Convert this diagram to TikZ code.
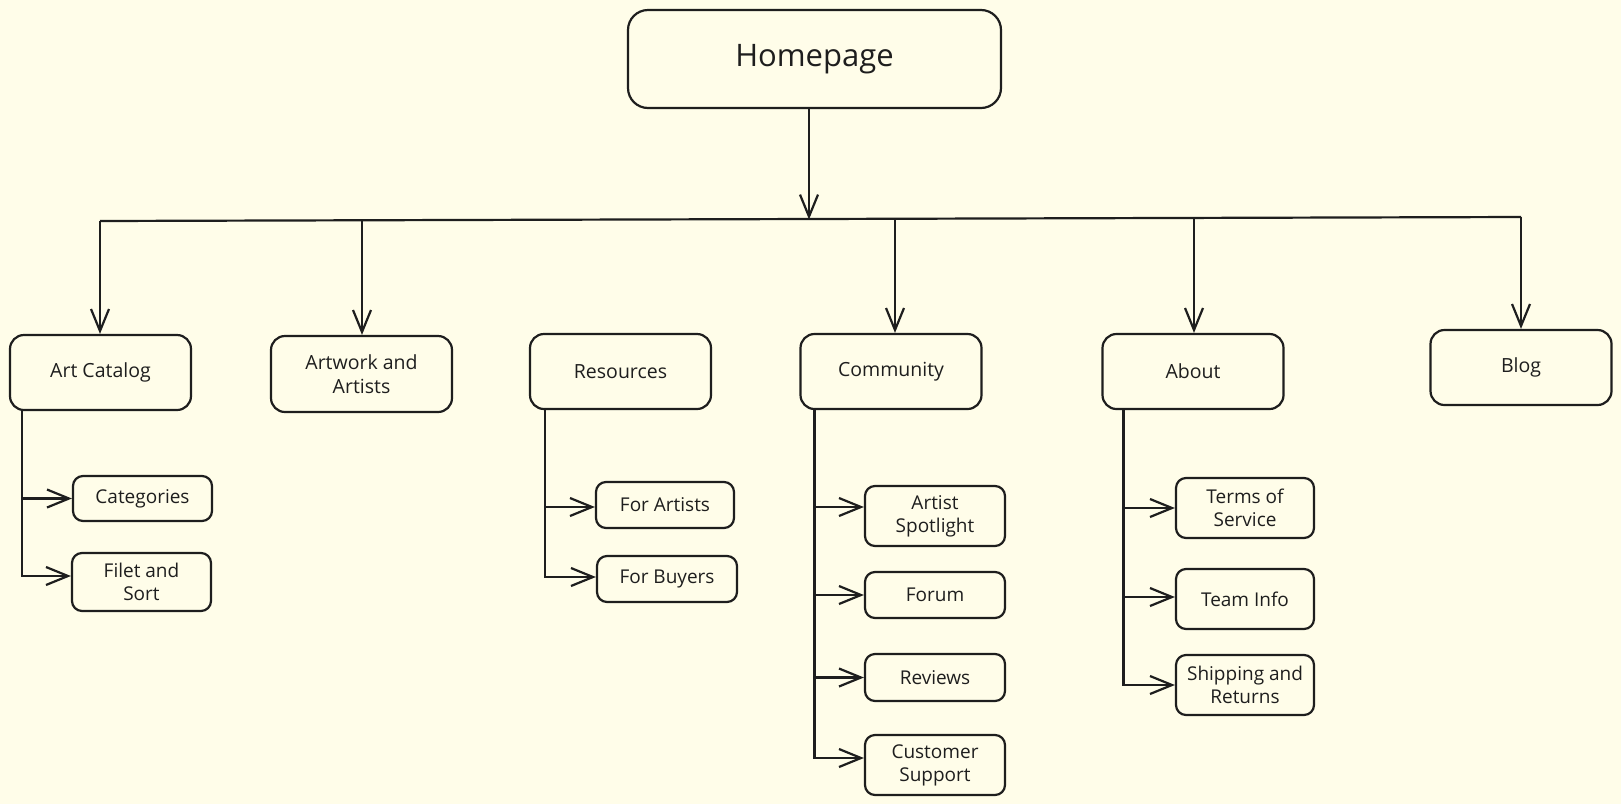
\documentclass[tikz,border=0pt]{standalone}
\usepackage{fontspec}
\setmainfont{Open Sans}
\usetikzlibrary{arrows.meta}
\definecolor{bg}{HTML}{FFFDE9}
\definecolor{ink}{HTML}{1E1E1E}
\begin{document}
\begin{tikzpicture}[x=1pt,y=-1pt,
  box/.style={draw=ink, line width=2.2pt, rounded corners=14pt, text=ink, align=center, inner sep=0pt,
    minimum width=181pt, minimum height=75pt, font=\fontsize{19.5}{24}\selectfont},
  sub/.style={box, rounded corners=10pt, minimum width=139pt, font=\fontsize{19}{23}\selectfont},
  conn/.style={draw=ink, line width=2.2pt},
  arr/.style={conn, -{Straight Barb[length=22pt,width=18pt]}},
]
\fill[bg] (0,0) rectangle (1621,804);
\useasboundingbox (0,0) rectangle (1621,804);

% root
\node[box, minimum width=373pt, minimum height=98pt, rounded corners=20pt,
      font=\fontsize{31}{36}\selectfont] (home) at (814.5,59) {Homepage};

% level 1
\node[box] (artcat)    at (100.5,372.5) {Art Catalog};
\node[box, minimum height=76pt] (artwork) at (361.5,374) {Artwork and\\Artists};
\node[box] (resources) at (620.5,371.5) {Resources};
\node[box] (community) at (891,371.5) {Community};
\node[box] (about)     at (1193,371.5) {About};
\node[box] (blog)      at (1521,367.5) {Blog};

% bus
\coordinate (bhome) at (809,219.5);
\coordinate (b1) at (100,221);
\coordinate (b2) at (362,220.5);
\coordinate (b4) at (895,218.5);
\coordinate (b5) at (1194,218);
\coordinate (b6) at (1521,217);
\draw[conn] (b1) -- (b6);
\draw[arr] (home.south -| bhome) -- (bhome);
\draw[arr] (b1) -- (artcat.north -| b1);
\draw[arr] (b2) -- (artwork.north -| b2);
\draw[arr] (b4) -- (community.north -| b4);
\draw[arr] (b5) -- (about.north -| b5);
\draw[arr] (b6) -- (blog.north -| b6);

% Art Catalog children
\node[sub, minimum height=45pt] (cat)   at (142.5,498.5) {Categories};
\node[sub, minimum height=58pt] (filet) at (141.5,582) {Filet and\\Sort};
\coordinate (ta) at ([xshift=13pt]artcat.south west);
\draw[arr] (ta) |- (cat.west);
\draw[arr] (ta) |- ([yshift=6pt]filet.west);

% Resources children
\node[sub, minimum width=138pt, minimum height=46pt] (forart) at (665,505) {For Artists};
\node[sub, minimum width=140pt, minimum height=46pt] (forbuy) at (667,579) {For Buyers};
\coordinate (tr) at ([xshift=16pt]resources.south west);
\draw[arr] (tr) |- ([yshift=-2pt]forart.west);
\draw[arr] (tr) |- ([yshift=2pt]forbuy.west);

% Community children
\node[sub, minimum width=140pt, minimum height=60pt] (spot)    at (935,516) {Artist\\Spotlight};
\node[sub, minimum width=140pt, minimum height=46pt] (forum)   at (935,595) {Forum};
\node[sub, minimum width=140pt, minimum height=47pt] (reviews) at (935,677.5) {Reviews};
\node[sub, minimum width=140pt, minimum height=60pt] (support) at (935,765) {Customer\\Support};
\coordinate (tc) at ([xshift=15pt]community.south west);
\draw[arr] (tc) |- ([yshift=9pt]spot.west);
\draw[arr] (tc) |- (forum.west);
\draw[arr] (tc) |- (reviews.west);
\draw[arr] (tc) |- ([yshift=7pt]support.west);

% About children
\node[sub, minimum width=138pt, minimum height=60pt] (terms) at (1245,508) {Terms of\\Service};
\node[sub, minimum width=138pt, minimum height=60pt] (team)  at (1245,599) {Team Info};
\node[sub, minimum width=138pt, minimum height=60pt] (ship)  at (1245,685) {Shipping and\\Returns};
\coordinate (tb) at ([xshift=22pt]about.south west);
\draw[arr] (tb) |- (terms.west);
\draw[arr] (tb) |- ([yshift=2pt]team.west);
\draw[arr] (tb) |- (ship.west);
\end{tikzpicture}
\end{document}
